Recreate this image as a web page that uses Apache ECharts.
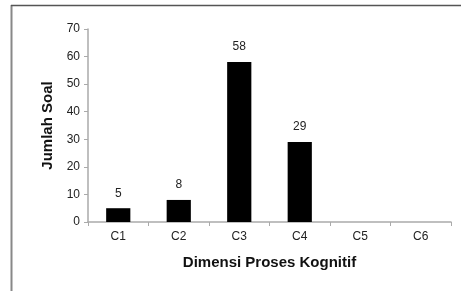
<!DOCTYPE html>
<html>
<head>
<meta charset="utf-8">
<script src="https://cdn.jsdelivr.net/npm/echarts@6/dist/echarts.min.js"></script>
<style>
  html, body { margin: 0; padding: 0; background: #fff; }
  #chart { width: 461px; height: 291px; }
</style>
</head>
<body>
<div id="chart"></div>
<script>
// data
var categories = ['C1', 'C2', 'C3', 'C4', 'C5', 'C6'];
var jumlahSoal = [5, 8, 58, 29, 0, 0];
var yTicks = { min: 0, max: 70, interval: 10 };

var chart = echarts.init(document.getElementById('chart'));

var font = 'Liberation Sans, Arial, sans-serif';

var option = {
  animation: false,
  textStyle: { fontFamily: font },
  grid: { left: 88, right: 10, top: 29, bottom: 69 },
  // the frame round the chart (left and top edges only are visible)
  graphic: [
    { type: 'line', shape: { x1: 11.5, y1: 5, x2: 11.5, y2: 291 }, style: { stroke: '#888', lineWidth: 2 } },
    { type: 'line', shape: { x1: 11, y1: 5.5, x2: 461, y2: 5.5 }, style: { stroke: '#555', lineWidth: 1.5 } }
  ],
  xAxis: {
    type: 'category',
    data: categories,
    name: 'Dimensi Proses Kognitif',
    nameLocation: 'middle',
    nameGap: 33,
    nameTextStyle: { fontSize: 15, fontWeight: 'bold', color: '#111', fontFamily: font },
    axisLine: { lineStyle: { color: '#aaa', width: 1.5 } },
    axisTick: { show: true, length: 4, lineStyle: { color: '#aaa' } },
    axisLabel: { fontSize: 12, color: '#222', margin: 9, fontFamily: font },
    splitLine: { show: false }
  },
  yAxis: {
    type: 'value',
    min: yTicks.min,
    max: yTicks.max,
    interval: yTicks.interval,
    name: 'Jumlah Soal',
    nameLocation: 'middle',
    nameGap: 31,
    nameTextStyle: { fontSize: 15, fontWeight: 'bold', color: '#111', fontFamily: font },
    axisLine: { show: true, lineStyle: { color: '#aaa', width: 1.5 } },
    axisTick: { show: true, length: 4, lineStyle: { color: '#aaa' } },
    axisLabel: { fontSize: 12, color: '#222', margin: 8, fontFamily: font },
    splitLine: { show: false }
  },
  series: [{
    type: 'bar',
    data: jumlahSoal,
    barWidth: '40%',
    itemStyle: { color: '#000' },
    label: {
      show: true,
      position: 'top',
      distance: 9,
      fontSize: 12,
      color: '#222',
      fontFamily: font,
      formatter: function (p) { return p.value > 0 ? p.value : ''; }
    }
  }]
};

chart.setOption(option);
</script>
</body>
</html>
